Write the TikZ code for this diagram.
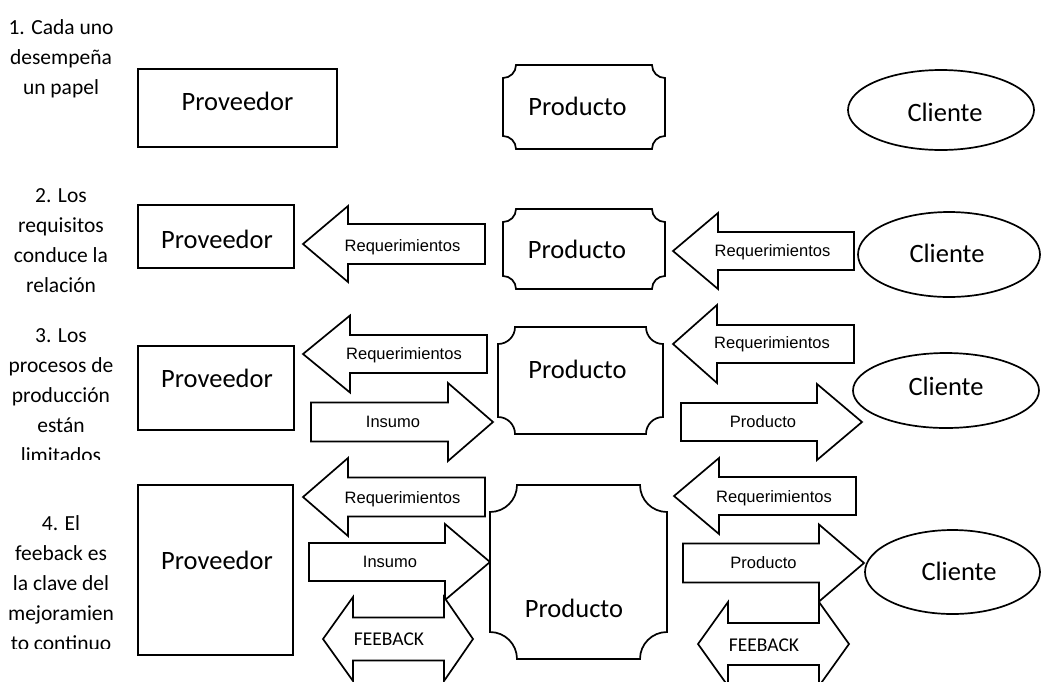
\documentclass[tikz,border=0pt]{standalone}
\usepackage{fontspec}
\setmainfont{Carlito}
\newfontfamily\arialfont{Liberation Sans}
\usetikzlibrary{shapes.geometric}

\tikzset{
    provbox/.style={rectangle, draw=black, line width=1.7pt, inner sep=0pt},
    clibox/.style={ellipse, draw=black, line width=1.7pt, inner sep=0pt},
    plaqueline/.style={draw=black, fill=white, line width=1.7pt},
    arrowline/.style={draw=black, fill=white, line width=1.7pt, line join=miter},
    bigtext/.style={font=\fontsize{26.5}{32}\selectfont, inner sep=0pt, anchor=base},
    arrowtext/.style={font=\arialfont\fontsize{16.5}{20}\selectfont, inner sep=0pt, anchor=base},
    fbtext/.style={font=\fontsize{19.5}{24}\selectfont, inner sep=0pt, anchor=base},
    steplabel/.style={font=\fontsize{21.5}{30}\selectfont, align=center, inner sep=0pt, anchor=north}
}

% box with hollow corners: x1, y1, x2, y2, radius
\newcommand{\plaque}[5]{%
  \draw[plaqueline] (#1+#5,#2) -- (#3-#5,#2) arc[start angle=180,end angle=90,radius=#5]
    -- (#3,#4-#5) arc[start angle=270,end angle=180,radius=#5]
    -- (#1+#5,#4) arc[start angle=0,end angle=-90,radius=#5]
    -- (#1,#2+#5) arc[start angle=90,end angle=0,radius=#5] -- cycle;}
% block arrow: tip, head base, tail, y, half shaft, half head
\newcommand{\arrowblock}[6]{%
  \draw[arrowline] (#1,#4) -- (#2,#4-#6) -- (#2,#4-#5) -- (#3,#4-#5)
    -- (#3,#4+#5) -- (#2,#4+#5) -- (#2,#4+#6) -- cycle;}
% double arrow: left tip, left base, right base, right tip, y, half shaft, half head
\newcommand{\dblarrow}[7]{%
  \draw[arrowline] (#1,#5) -- (#2,#5-#7) -- (#2,#5-#6) -- (#3,#5-#6) -- (#3,#5-#7)
    -- (#4,#5) -- (#3,#5+#7) -- (#3,#5+#6) -- (#2,#5+#6) -- (#2,#5+#7) -- cycle;}

\begin{document}
\begin{tikzpicture}[x=1pt, y=-1pt]
\useasboundingbox (0,0) rectangle (1041,681);
\clip (0,0) rectangle (1041,681);

% 1. roles
\node[steplabel] (paso1) at (61,18) {\rule{0pt}{16pt}1. Cada uno\\desempeña\\un papel};
\node[provbox, minimum width=199pt, minimum height=78pt] (prov1) at (237.5,108) {};
\node[bigtext] (prov1t) at (237.5,110) {Proveedor};
\plaque{503}{65}{665}{149}{13}
\node[bigtext] (prod1t) at (577.5,115) {Producto};
\node[clibox, minimum width=186pt, minimum height=80pt] (cli1) at (941,110) {};
\node[bigtext] (cli1t) at (945,121) {Cliente};

% 2. requirements
\node[steplabel] (paso2) at (61,186) {\rule{0pt}{16pt}2. Los\\requisitos\\conduce la\\relación};
\node[provbox, minimum width=156pt, minimum height=63pt] (prov2) at (216,236.5) {};
\node[bigtext] (prov2t) at (217,248) {Proveedor};
\arrowblock{303}{348}{485}{244}{20}{38}
\node[arrowtext] (req2l) at (402.5,251) {Requerimientos};
\plaque{503}{209}{665}{289}{13}
\node[bigtext] (prod2t) at (577,258) {Producto};
\arrowblock{673}{718}{854}{251}{19}{38}
\node[arrowtext] (req2r) at (772.5,256) {Requerimientos};
\node[clibox, minimum width=182pt, minimum height=85pt] (cli2) at (949,254.5) {};
\node[bigtext] (cli2t) at (947,262) {Cliente};

% 3. production
\begin{scope}
\clip (0,300) rectangle (140,459);
\node[steplabel] (paso3) at (61,326) {\rule{0pt}{16pt}3. Los\\procesos de\\producción\\están\\limitados};
\end{scope}
\node[provbox, minimum width=156pt, minimum height=84pt] (prov3) at (216,388) {};
\node[bigtext] (prov3t) at (217,387) {Proveedor};
\arrowblock{303}{350}{487}{354}{19}{38.5}
\node[arrowtext] (req3l) at (404,359) {Requerimientos};
\arrowblock{493}{448}{311}{422}{19.5}{39}
\node[arrowtext] (ins3) at (393,427) {Insumo};
\plaque{498}{327}{663}{434}{17}
\node[bigtext] (prod3t) at (577.5,378) {Producto};
\arrowblock{673}{717}{854}{344}{19}{39}
\node[arrowtext] (req3r) at (772,348) {Requerimientos};
\arrowblock{862}{817}{681}{422}{19}{38}
\node[arrowtext] (pro3) at (763,427) {Producto};
\node[clibox, minimum width=186pt, minimum height=75pt] (cli3) at (946,390.5) {};
\node[bigtext] (cli3t) at (946,395) {Cliente};

% 4. feedback
\begin{scope}
\clip (0,470) rectangle (140,648);
\node[steplabel] (paso4) at (61,514) {\rule{0pt}{16pt}4. El\\feeback es\\la clave del\\mejoramien\\to continuo};
\end{scope}
\node[provbox, minimum width=155pt, minimum height=170pt] (prov4) at (215.5,570) {};
\node[bigtext] (prov4t) at (217,569) {Proveedor};
\arrowblock{303}{348}{485}{497}{19.5}{39}
\node[arrowtext] (req4l) at (402.5,503) {Requerimientos};
\arrowblock{490}{445}{309}{562}{19}{38}
\node[arrowtext] (ins4) at (390,567) {Insumo};
\dblarrow{323}{353}{444}{473}{639}{21.5}{42}
\node[fbtext] (fb4l) at (389,645) {FEEBACK};
\plaque{490}{485}{667}{659}{27}
\node[bigtext] (prod4t) at (574,617) {Producto};
\arrowblock{674}{719}{856}{496}{19}{38}
\node[arrowtext] (req4r) at (774,502) {Requerimientos};
\arrowblock{864}{819}{683}{563}{19.5}{38.5}
\node[arrowtext] (pro4) at (763.5,568) {Producto};
\dblarrow{698}{728}{819}{849}{644}{21}{42}
\node[fbtext] (fb4r) at (764,651) {FEEBACK};
\node[clibox, minimum width=175pt, minimum height=84pt] (cli4) at (952.5,572) {};
\node[bigtext] (cli4t) at (959,580) {Cliente};
\end{tikzpicture}
\end{document}
